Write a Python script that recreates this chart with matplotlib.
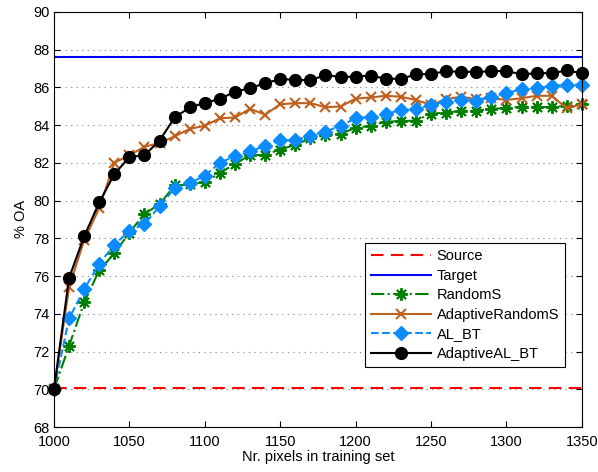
import matplotlib
matplotlib.use("Agg")
import matplotlib.pyplot as plt
import numpy as np

plt.rcParams['font.family'] = ['Liberation Sans', 'DejaVu Sans']

# pixels in training set
n_pixels = list(range(1000, 1351, 10))

source_oa = 70.05
target_oa = 87.58

random_s = [70.0, 72.3, 74.6, 76.3, 77.2, 78.3, 79.3, 79.8, 80.8, 80.85,
            81.0, 81.45, 81.95, 82.4, 82.42, 82.7, 82.95, 83.3, 83.45, 83.55,
            83.85, 83.97, 84.18, 84.2, 84.24, 84.6, 84.66, 84.75, 84.75, 84.86,
            84.9, 84.98, 84.95, 84.95, 85.02, 85.1]

adaptive_random_s = [70.0, 75.4, 77.9, 79.6, 82.0, 82.4, 82.85, 83.05, 83.4, 83.8,
                     83.96, 84.36, 84.4, 84.86, 84.55, 85.1, 85.16, 85.16, 84.95, 84.98,
                     85.4, 85.46, 85.55, 85.5, 85.33, 85.07, 85.37, 85.5, 85.37, 85.42,
                     85.33, 85.42, 85.55, 85.55, 84.89, 85.1]

al_bt = [70.0, 73.75, 75.3, 76.65, 77.65, 78.4, 78.75, 79.7, 80.65, 80.92,
         81.32, 82.0, 82.35, 82.6, 82.9, 83.2, 83.2, 83.43, 83.65, 83.96,
         84.36, 84.45, 84.58, 84.8, 84.84, 85.07, 85.24, 85.33, 85.3, 85.51,
         85.69, 85.9, 85.95, 86.08, 86.13, 86.13]

adaptive_al_bt = [70.0, 75.9, 78.1, 79.9, 81.4, 82.3, 82.4, 83.18, 84.4, 84.93,
                  85.18, 85.38, 85.77, 85.95, 86.22, 86.43, 86.4, 86.36, 86.66, 86.54,
                  86.57, 86.62, 86.45, 86.45, 86.68, 86.71, 86.85, 86.82, 86.82, 86.85,
                  86.87, 86.68, 86.75, 86.75, 86.89, 86.75]

fig = plt.figure(figsize=(5.98, 4.72), dpi=100)
ax = fig.add_axes([0.0903, 0.0953, 0.8827, 0.8797])

ax.axhline(source_oa, color='#ff0000', linestyle=(0, (6, 3.5)), linewidth=1.5, label='Source')
ax.axhline(target_oa, color='#0000ff', linestyle='-', linewidth=1.5, label='Target')
ax.plot(n_pixels, random_s, color='#007f00', linestyle='-.', linewidth=1.5,
        marker=(8, 2, 0), markersize=9, markeredgewidth=1.4, label='RandomS', clip_on=False)
ax.plot(n_pixels, adaptive_random_s, color='#c0601e', linestyle='-', linewidth=1.5,
        marker='x', markersize=7, markeredgewidth=1.5, label='AdaptiveRandomS', clip_on=False)
ax.plot(n_pixels, al_bt, color='#0a8cff', linestyle='--', linewidth=1.5,
        marker='D', markersize=7, label='AL_BT', clip_on=False)
ax.plot(n_pixels, adaptive_al_bt, color='black', linestyle='-', linewidth=1.5,
        marker='o', markersize=8.5, label='AdaptiveAL_BT', clip_on=False)

ax.set_xlim(1000, 1350)
ax.set_ylim(68, 90)
ax.set_xticks(range(1000, 1351, 50))
ax.set_yticks(range(68, 91, 2))
ax.yaxis.grid(True, linestyle=(0, (1, 4)), color='#808080', linewidth=0.8)
ax.set_axisbelow(True)
ax.tick_params(direction='in', top=True, right=True, labelsize=10.5, length=4)
ax.tick_params(axis='x', pad=5.5)
ax.tick_params(axis='y', pad=3)
for s in ax.spines.values():
    s.set_linewidth(0.8)

ax.set_xlabel('Nr. pixels in training set', fontsize=10.5, labelpad=1)
ax.set_ylabel('% OA', fontsize=10.5, labelpad=4)

leg = ax.legend(loc='lower right', bbox_to_anchor=(0.968, 0.145), fontsize=10.5,
                fancybox=False, edgecolor='black', framealpha=1, borderaxespad=0,
                handlelength=4.1, borderpad=0.4, labelspacing=0.38, handletextpad=0.4)
leg.get_frame().set_linewidth(0.8)

fig.savefig('out.png', dpi=100)
